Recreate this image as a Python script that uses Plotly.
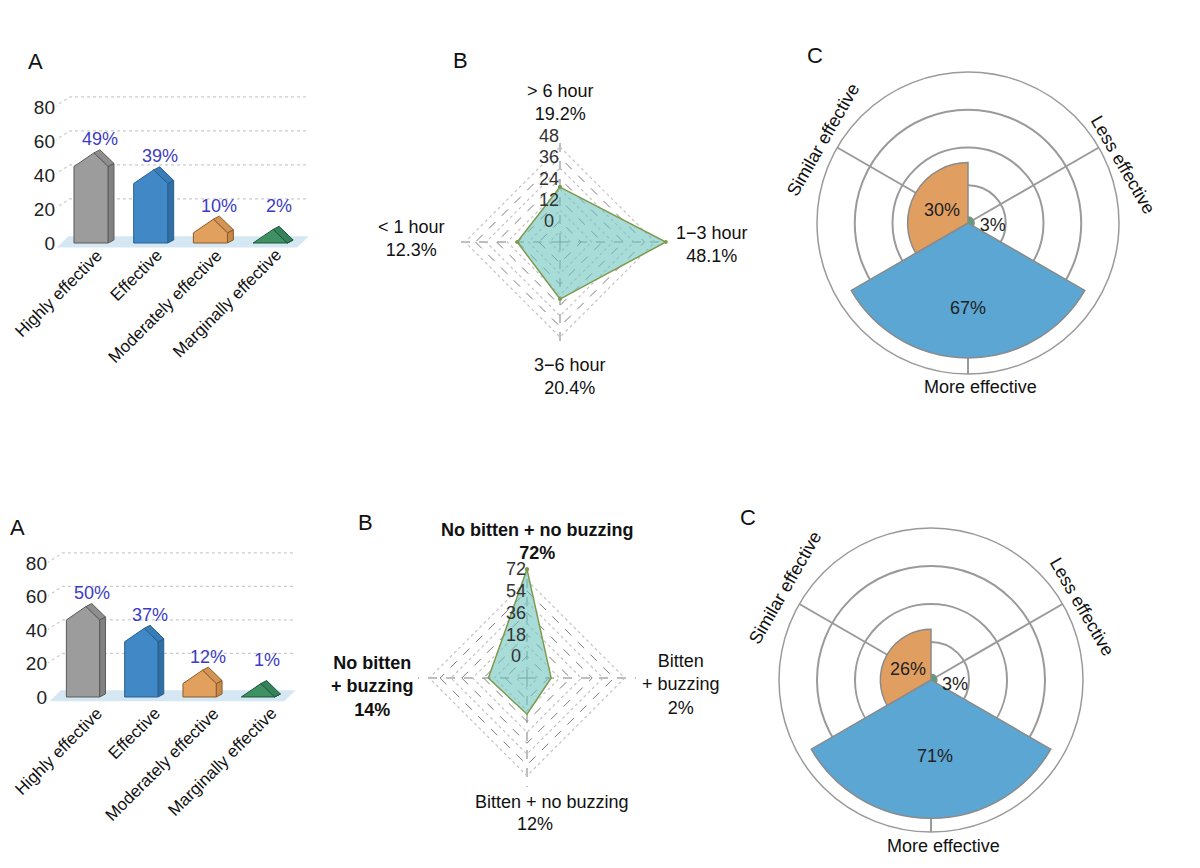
import plotly.graph_objects as go

W, H = 1200, 868
OFF = 8  # page body margin
FW, FH = W - OFF, H - OFF


def fx(px):
    return (px - OFF) / FW


def fy(py):
    return 1 - (py - OFF) / FH


# ---------------- data ----------------
bar_categories = ["Highly effective", "Effective", "Moderately effective", "Marginally effective"]
bar_top = [49, 39, 10, 2]
bar_bottom = [50, 37, 12, 1]
bar_ticks = [0, 20, 40, 60, 80]

radar_top_cats = ["> 6 hour", "1\u22123 hour", "3\u22126 hour", "< 1 hour"]
radar_top_vals = [19.2, 48.1, 20.4, 12.3]
radar_top_ticks = [0, 12, 24, 36, 48]

radar_bot_cats = ["No bitten + no buzzing", "Bitten + buzzing", "Bitten + no buzzing", "No bitten + buzzing"]
radar_bot_vals = [72, 2, 12, 14]
radar_bot_ticks = [0, 18, 36, 54, 72]

polar_cats = ["Less effective", "More effective", "Similar effective"]
polar_top = [3, 67, 30]
polar_bot = [3, 71, 26]

# ---------------- styles ----------------
FONT = "Liberation Sans, Arial, sans-serif"
bar_front = ["#9c9c9c", "#4189c6", "#e2a05e", "#3d9163"]
bar_side = ["#828282", "#306fa6", "#c7884a", "#2d7550"]
bar_roof = ["#8e8e8e", "#387dba", "#d39454", "#34835a"]
bar_edge = ["#5a5a5a", "#2a5f8c", "#8a5a28", "#1f5538"]
pct_color = "#3b3bc4"
polar_colors = ["#4aa67a", "#5ba6d2", "#e19e61"]

fig = go.Figure()


def add_bar_panel(xa, ya, vals, lab_dx, lab_shift):
    n = len(vals)
    fig.add_trace(go.Scatter(
        x=[-0.57, n - 1 + 0.45, n - 1 + 0.65, -0.38, -0.57],
        y=[-2.6, -2.6, 4, 4, -2.6],
        fill="toself", fillcolor="#d4e7f3", line=dict(width=0), mode="lines",
        xaxis=xa, yaxis=ya, hoverinfo="skip", showlegend=False))
    for t in bar_ticks[1:]:
        fig.add_trace(go.Scatter(
            x=[-0.62, -0.35, n - 1 + 0.65], y=[t, t + 6, t + 6],
            mode="lines", line=dict(color="#cccccc", width=1.2, dash="dot"),
            xaxis=xa, yaxis=ya, hoverinfo="skip", showlegend=False))
    hw, dx, dy = 0.285, 0.1, 1.8
    for i, v in enumerate(vals):
        s = max(v - 4, 0)
        p = s + 8
        pk = i + 0.05
        fig.add_trace(go.Scatter(
            x=[i + hw, i + hw, i + hw + dx, i + hw + dx, i + hw],
            y=[0, s, s + dy, dy, 0],
            fill="toself", fillcolor=bar_side[i], line=dict(color=bar_edge[i], width=1),
            mode="lines", xaxis=xa, yaxis=ya, hoverinfo="skip", showlegend=False))
        fig.add_trace(go.Scatter(
            x=[pk, pk + dx, i + hw + dx, i + hw, pk],
            y=[p, p + dy, s + dy, s, p],
            fill="toself", fillcolor=bar_roof[i], line=dict(color=bar_edge[i], width=1),
            mode="lines", xaxis=xa, yaxis=ya, hoverinfo="skip", showlegend=False))
        fig.add_trace(go.Scatter(
            x=[i - hw, i - hw, pk, i + hw, i + hw, i - hw],
            y=[0, s, p, s, 0, 0],
            fill="toself", fillcolor=bar_front[i], line=dict(color=bar_edge[i], width=1),
            mode="lines", xaxis=xa, yaxis=ya, hoverinfo="skip", showlegend=False))
        fig.add_annotation(x=i + 0.15, y=max(v, 10) + 12, xref=xa, yref=ya,
                           text=f"{v}%", showarrow=False,
                           font=dict(family=FONT, size=18, color=pct_color))
    for i, c in enumerate(bar_categories):
        fig.add_annotation(x=i + lab_dx, y=0, xref=xa, yref=ya, yshift=lab_shift,
                           text=c, textangle=-45, xanchor="right", yanchor="top",
                           showarrow=False, font=dict(family=FONT, size=17, color="#111"))


add_bar_panel("x", "y", bar_top, 0.30, 0)
add_bar_panel("x2", "y2", bar_bottom, 0.44, -4)


def add_radar(sub, cats, vals, ticks):
    step = ticks[1] - ticks[0]
    # light dotted rings half-way between the dashed grid rings
    for t in ticks:
        m = t - step / 2
        fig.add_trace(go.Scatterpolar(
            r=[m] * (len(cats) + 1), theta=cats + [cats[0]], subplot=sub, mode="lines",
            line=dict(color="#c4c4c4", width=1.2, dash="dot"),
            hoverinfo="skip", showlegend=False))
    fig.add_trace(go.Scatterpolar(
        r=vals + [vals[0]], theta=cats + [cats[0]], subplot=sub,
        mode="lines+markers", fill="toself", fillcolor="rgba(110,196,192,0.6)",
        line=dict(color="#7f9a4e", width=1.5), marker=dict(size=4, color="#7f9a4e"),
        hoverinfo="skip", showlegend=False))


add_radar("polar", radar_top_cats, radar_top_vals, radar_top_ticks)
add_radar("polar3", radar_bot_cats, radar_bot_vals, radar_bot_ticks)


def add_rose(sub, vals, label_theta, label_r):
    fig.add_trace(go.Barpolar(
        r=vals, theta=[60, 180, 300], width=[120, 120, 120], subplot=sub,
        marker=dict(color=polar_colors, line=dict(color="#8a8a8a", width=1.5)),
        hoverinfo="skip", showlegend=False))
    fig.add_trace(go.Scatterpolar(
        r=label_r, theta=label_theta, subplot=sub, mode="text",
        text=[f"{v}%" for v in vals],
        textfont=dict(family=FONT, size=18, color="#222"),
        hoverinfo="skip", showlegend=False))


add_rose("polar2", polar_top, [99, 180, 293], [12.5, 43, 14])
add_rose("polar4", polar_bot, [102, 177, 293], [12.6, 40, 12.8])


def radar_layout(domx, domy, cats, ticks):
    # centre sits one ring-step below zero (radar-chart convention)
    step = ticks[1] - ticks[0]
    return dict(
        domain=dict(x=domx, y=domy), gridshape="linear", bgcolor="rgba(0,0,0,0)",
        radialaxis=dict(range=[-step, ticks[-1] * 1.004], tickvals=ticks, showticklabels=False,
                        ticks="", showline=False, gridcolor="#7c7c7c", griddash="dash", gridwidth=1),
        angularaxis=dict(type="category", categoryarray=cats, rotation=90, direction="clockwise",
                         showticklabels=False, ticks="", showline=False,
                         gridcolor="#7c7c7c", griddash="dash", gridwidth=1))


def rose_layout(domx, domy, rmax):
    return dict(
        domain=dict(x=domx, y=domy), bgcolor="white", barmode="overlay",
        radialaxis=dict(range=[0, rmax], tickvals=[rmax * 0.25, rmax * 0.5, rmax * 0.75],
                        showticklabels=False, ticks="", showline=False,
                        gridcolor="#9a9a9a", gridwidth=1.5),
        angularaxis=dict(rotation=90, direction="clockwise", tickvals=[60, 180, 300],
                         showticklabels=False, ticks="", showline=True, linecolor="#9a9a9a",
                         linewidth=1.5, gridcolor="#9a9a9a", gridwidth=1.5))


# radar geometry (pixels in the page): centre x, centre y, radius
RT = (560, 242, 106)
RB = (527, 678, 109)

fig.update_layout(
    width=FW, height=FH, margin=dict(l=0, r=0, t=0, b=0),
    paper_bgcolor="white", plot_bgcolor="rgba(0,0,0,0)",
    font=dict(family=FONT, size=18, color="#222"),
    xaxis=dict(domain=[fx(56), fx(310)], range=[-0.586, 3.668], visible=False),
    yaxis=dict(domain=[fy(260), fy(90)], range=[-10, 90], tickvals=bar_ticks, showgrid=False,
               zeroline=False, showline=False, ticks="", tickfont=dict(size=19, color="#222"),
               anchor="x"),
    xaxis2=dict(domain=[fx(48), fx(302)], range=[-0.600, 3.756], visible=False, anchor="y2"),
    yaxis2=dict(domain=[fy(712), fy(545)], range=[-8.96, 90.75], tickvals=bar_ticks, showgrid=False,
                zeroline=False, showline=False, ticks="", tickfont=dict(size=19, color="#222"),
                anchor="x2"),
    polar=radar_layout([fx(RT[0] - RT[2]), fx(RT[0] + RT[2])],
                       [fy(RT[1] + RT[2]), fy(RT[1] - RT[2])], radar_top_cats, radar_top_ticks),
    polar3=radar_layout([fx(RB[0] - RB[2]), fx(RB[0] + RB[2])],
                        [fy(RB[1] + RB[2]), fy(RB[1] - RB[2])], radar_bot_cats, radar_bot_ticks),
    polar2=rose_layout([fx(817), fx(1119)], [fy(374), fy(72)], 75),
    polar4=rose_layout([fx(779), fx(1083)], [fy(832), fy(528)], 78),
)


def note(px, py, text, size=18, angle=0, bold=False, align="center", color="#111"):
    if bold:
        text = "<b>" + text.replace("<br>", "</b><br><b>") + "</b>"
    fig.add_annotation(x=fx(px), y=fy(py), xref="paper", yref="paper", text=text,
                       showarrow=False, textangle=angle, align=align,
                       xanchor="center", yanchor="middle",
                       font=dict(family=FONT, size=size, color=color))


# radial tick labels of the radar charts, placed along the upper spoke
for (cx, cy, R), ticks in [(RT, radar_top_ticks), (RB, radar_bot_ticks)]:
    step = ticks[1] - ticks[0]
    span = ticks[-1] * 1.004 + step
    for t in ticks:
        note(cx - 11, cy - R * (t + step) / span, str(t), size=18, color="#333")

# panel letters
for (px, py, t) in [(35, 62, "A"), (460, 60, "B"), (815, 55, "C"),
                    (17, 527, "A"), (365, 522, "B"), (748, 517, "C")]:
    note(px, py, t, size=22)

# radar labels (top)
note(560, 102, f"{radar_top_cats[0]}<br>{radar_top_vals[0]}%")
note(712, 245, f"{radar_top_cats[1]}<br>{radar_top_vals[1]}%")
note(570, 377, f"{radar_top_cats[2]}<br>{radar_top_vals[2]}%")
note(411, 238, f"{radar_top_cats[3]}<br>{radar_top_vals[3]}%")

# radar labels (bottom)
note(537, 541, f"{radar_bot_cats[0]}<br>{radar_bot_vals[0]}%", bold=True)
note(681, 684, f"Bitten<br>+ buzzing<br>{radar_bot_vals[1]}%")
note(552, 802, radar_bot_cats[2])
note(535, 824, f"{radar_bot_vals[2]}%")
note(372, 686, f"No bitten<br>+ buzzing<br>{radar_bot_vals[3]}%", bold=True)

# rose labels
note(823, 140, polar_cats[2], angle=-60)
note(1123, 165, polar_cats[0], angle=60)
note(980, 387, polar_cats[1])
note(785, 588, polar_cats[2], angle=-60)
note(1082, 607, polar_cats[0], angle=60)
note(943, 846, polar_cats[1])

fig.write_html("out.html")
